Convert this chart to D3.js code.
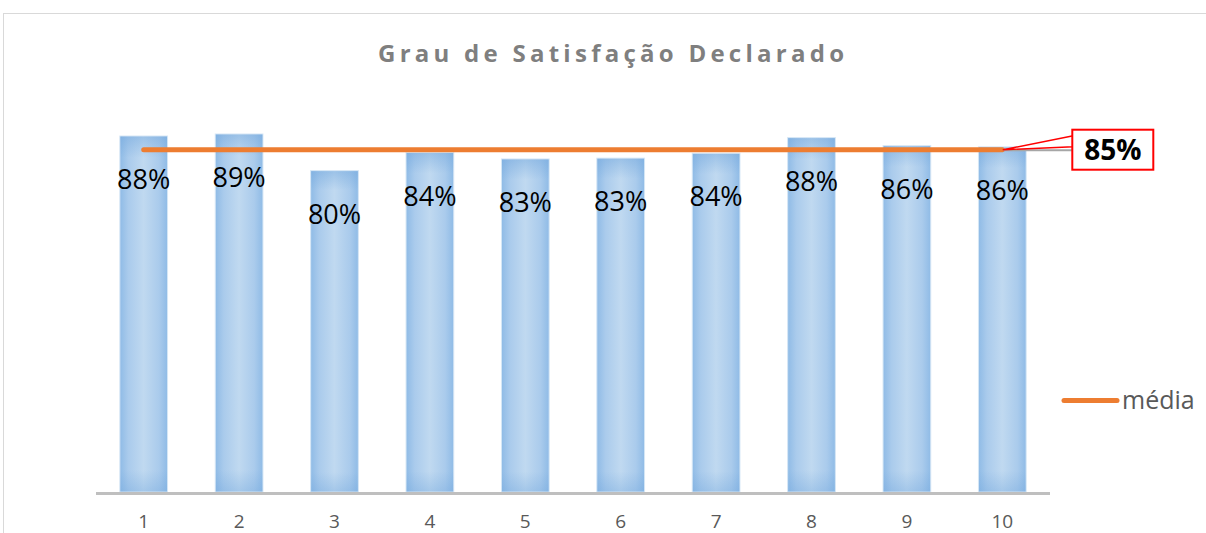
<!DOCTYPE html>
<html>
<head>
<meta charset="utf-8">
<script src="https://cdn.jsdelivr.net/npm/d3@7"></script>
<style>
  html, body { margin: 0; padding: 0; background: #ffffff; }
  svg { display: block; }
</style>
</head>
<body>
<svg id="chart" width="1206" height="533"></svg>
<script>
// ---- data ----
const categories = ["1", "2", "3", "4", "5", "6", "7", "8", "9", "10"];
const satisfacao = [0.884, 0.889, 0.798, 0.843, 0.827, 0.829, 0.841, 0.880, 0.860, 0.857];
const media = [0.85, 0.85, 0.85, 0.85, 0.85, 0.85, 0.85, 0.85, 0.85, 0.85];
const titleText = "Grau de Satisfação Declarado";
const legendLabel = "média";

// ---- layout ----
const W = 1206, H = 533;
const svg = d3.select("#chart");
const defs = svg.append("defs");

const x = d3.scaleBand().domain(categories).range([96, 1050]).paddingInner(0.5).paddingOuter(0.25);
const y = d3.scaleLinear().domain([0, 1]).range([492, 89.3]);
const pct = d3.format(".0%");

// chart frame
svg.append("rect").attr("x", 3.5).attr("y", 13.5).attr("width", W).attr("height", H)
  .attr("fill", "none").attr("stroke", "#d9d9d9").attr("stroke-width", 1);

// bar gradients
const gH = defs.append("linearGradient").attr("id", "barH").attr("x1", "0").attr("x2", "1").attr("y1", "0").attr("y2", "0");
gH.append("stop").attr("offset", "0").attr("stop-color", "#8fbbe6");
gH.append("stop").attr("offset", "0.18").attr("stop-color", "#aacbec");
gH.append("stop").attr("offset", "0.5").attr("stop-color", "#c0d9f0");
gH.append("stop").attr("offset", "0.82").attr("stop-color", "#aacbec");
gH.append("stop").attr("offset", "1").attr("stop-color", "#8fbbe6");
const gV = defs.append("linearGradient").attr("id", "barV").attr("x1", "0").attr("x2", "0").attr("y1", "0").attr("y2", "1");
gV.append("stop").attr("offset", "0").attr("stop-color", "#6fa5dc").attr("stop-opacity", 0.45);
gV.append("stop").attr("offset", "0.06").attr("stop-color", "#6fa5dc").attr("stop-opacity", 0);
gV.append("stop").attr("offset", "0.94").attr("stop-color", "#6fa5dc").attr("stop-opacity", 0);
gV.append("stop").attr("offset", "1").attr("stop-color", "#6fa5dc").attr("stop-opacity", 0.35);

// title
svg.append("text")
  .attr("x", 378).attr("y", 62)
  .attr("textLength", 466).attr("lengthAdjust", "spacing")
  .attr("font-family", "'Open Sans', 'DejaVu Sans', sans-serif")
  .attr("font-size", 24).attr("font-weight", "bold")
  .attr("fill", "#7f7f7f")
  .text(titleText);

// bars
const bars = svg.append("g");
bars.selectAll("rect.b").data(satisfacao).join("rect").attr("class", "b")
  .attr("x", (d, i) => x(categories[i])).attr("y", d => y(d))
  .attr("width", x.bandwidth()).attr("height", d => y(0) - y(d))
  .attr("fill", "url(#barH)").attr("stroke", "#d6e6f5").attr("stroke-width", 1);
bars.selectAll("rect.v").data(satisfacao).join("rect").attr("class", "v")
  .attr("x", (d, i) => x(categories[i]) + 0.5).attr("y", d => y(d) + 0.5)
  .attr("width", x.bandwidth() - 1).attr("height", d => y(0) - y(d) - 1)
  .attr("fill", "url(#barV)");

// axis line
svg.append("line").attr("x1", x.range()[0]).attr("x2", x.range()[1])
  .attr("y1", 493.5).attr("y2", 493.5).attr("stroke", "#bfbfbf").attr("stroke-width", 3);

// x tick labels
const xAxis = d3.axisBottom(x).tickSize(0).tickPadding(0);
const ax = svg.append("g").attr("transform", "translate(0,528)").call(xAxis);
ax.select(".domain").remove();
ax.selectAll("text").attr("font-family", "'Open Sans', sans-serif").attr("font-size", 19)
  .attr("fill", "#595959").attr("dy", "0");

// media line
const cx = (d, i) => x(categories[i]) + x.bandwidth() / 2;
const line = d3.line().x(cx).y(d => y(d));
svg.append("path").datum(media).attr("d", line)
  .attr("fill", "none").attr("stroke", "#ed7d31").attr("stroke-width", 5).attr("stroke-linecap", "round");

// value labels
svg.append("g").selectAll("text").data(satisfacao).join("text")
  .attr("x", cx).attr("y", d => y(d) + 53)
  .attr("text-anchor", "middle")
  .attr("font-family", "'Open Sans', sans-serif").attr("font-size", 27)
  .attr("fill", "#000000")
  .text(d => pct(d));

// callout for media
const lastI = media.length - 1;
const px = cx(media[lastI], lastI) + 1, py = y(media[lastI]);
const bx = px + 69, by = py - 20, bw = 81, bh = 40;
svg.append("line").attr("x1", px).attr("x2", bx).attr("y1", py + 0.5).attr("y2", py + 0.5)
  .attr("stroke", "#a6a6a6").attr("stroke-width", 2);
svg.append("path")
  .attr("d", `M${px},${py} L${bx + 1},${by + 6} L${bx + 1},${by + 17} Z`)
  .attr("fill", "#ffffff").attr("stroke", "#ff0000").attr("stroke-width", 1.5).attr("stroke-linejoin", "round");
svg.append("rect").attr("x", bx).attr("y", by).attr("width", bw).attr("height", bh)
  .attr("fill", "#ffffff").attr("stroke", "#ff0000").attr("stroke-width", 2);
svg.append("text").attr("x", bx + bw / 2).attr("y", by + bh / 2 + 10)
  .attr("text-anchor", "middle")
  .attr("font-family", "'Open Sans', sans-serif").attr("font-size", 28).attr("font-weight", "bold")
  .attr("fill", "#000000")
  .text(pct(media[lastI]));

// legend
svg.append("line").attr("x1", 1064).attr("x2", 1117).attr("y1", 400.5).attr("y2", 400.5)
  .attr("stroke", "#ed7d31").attr("stroke-width", 5).attr("stroke-linecap", "round");
svg.append("text").attr("x", 1122).attr("y", 409)
  .attr("font-family", "'Open Sans', sans-serif").attr("font-size", 25)
  .attr("fill", "#595959")
  .text(legendLabel);
</script>
</body>
</html>
